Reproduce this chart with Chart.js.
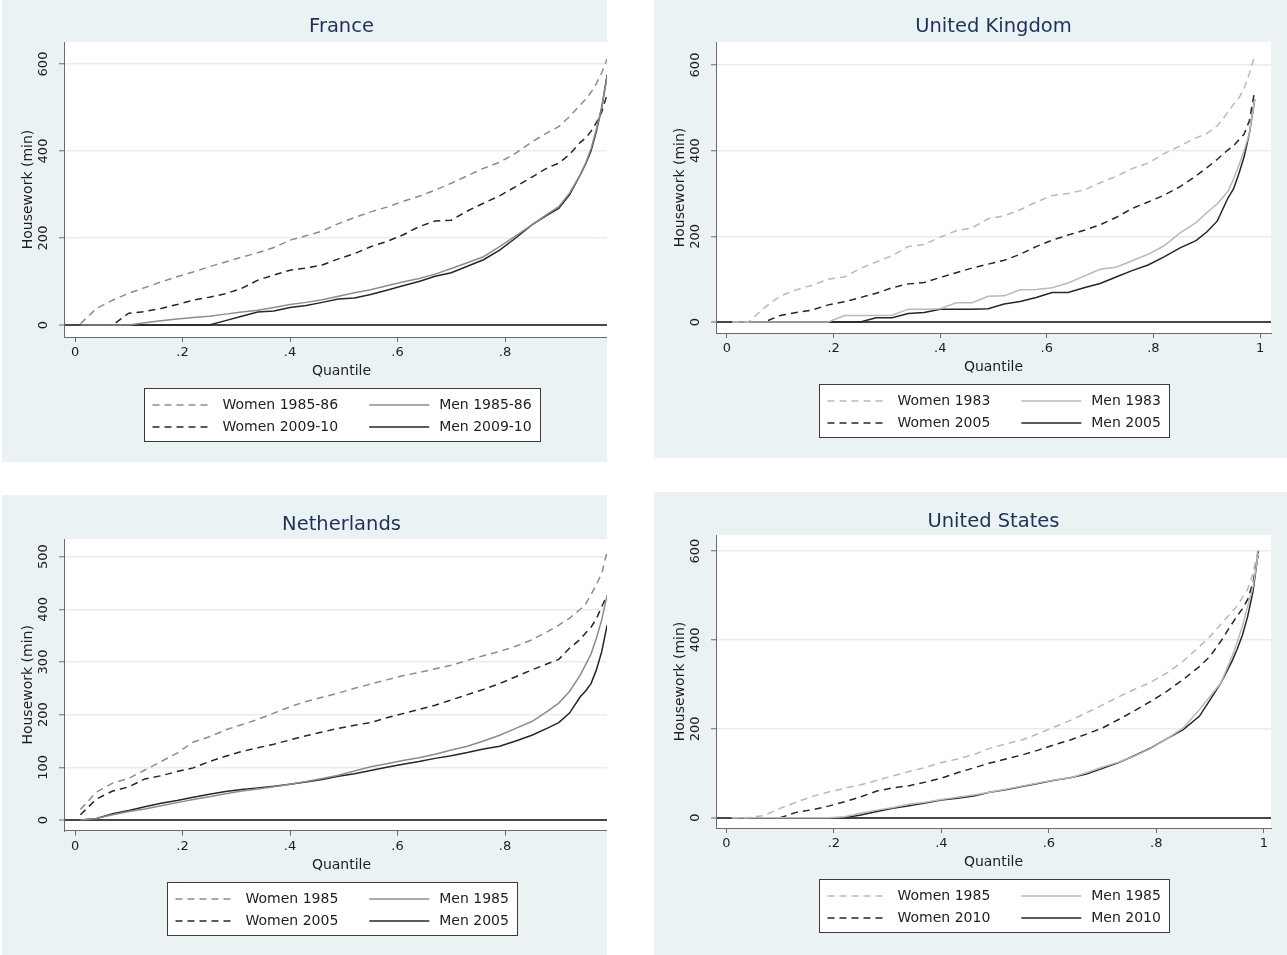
<!DOCTYPE html>
<html lang="en">
<head>
<meta charset="UTF-8">
<title>Housework by quantile</title>
<script src="https://cdn.jsdelivr.net/npm/chart.js"></script>
<style>
  body { margin: 0; background: #ffffff; width: 1287px; height: 955px; position: relative; overflow: hidden; }
  .panel { position: absolute; overflow: hidden; background: #eaf2f3; }
  .panel canvas { position: absolute; left: 0; top: 0; }
</style>
</head>
<body>
<div class="panel" style="left:2px;top:0px;width:605px;height:462px"><canvas id="fr" width="633" height="462"></canvas></div>
<div class="panel" style="left:654px;top:0px;width:633px;height:458px"><canvas id="uk" width="633" height="458"></canvas></div>
<div class="panel" style="left:2px;top:495px;width:605px;height:460px"><canvas id="nl" width="633" height="460"></canvas></div>
<div class="panel" style="left:654px;top:492px;width:633px;height:463px"><canvas id="us" width="633" height="463"></canvas></div>

<script>
const quantiles = [0.01,0.04,0.07,0.10,0.13,0.16,0.19,0.22,0.25,0.28,0.31,0.34,0.37,0.40,0.43,0.46,0.49,0.52,0.55,0.58,0.61,0.64,0.67,0.70,0.73,0.76,0.79,0.82,0.85,0.88,0.90,0.92,0.94,0.95,0.96,0.97,0.98,0.99];
const xTicks = [0, 0.2, 0.4, 0.6, 0.8, 1];
const yTicks600 = [0, 200, 400, 600];
const yTicks500 = [0, 100, 200, 300, 400, 500];

// France
const franceWomen8586 = [3,38,57,73,86,99,111,122,134,145,156,166,178,195,205,216,233,247,260,271,284,296,310,326,343,360,374,395,421,443,456,479,506,519,535,555,580,612];
const franceMen8586   = [0,0,0,0,5,10,14,17,20,25,30,34,40,47,52,58,66,74,81,90,99,107,117,130,143,157,180,205,230,256,272,303,345,372,405,450,500,571];
const franceWomen0910 = [0,0,0,27,31,38,47,57,64,72,84,103,115,126,131,138,152,164,180,192,207,226,239,241,262,280,297,318,340,362,372,392,420,430,445,465,490,530];
const franceMen0910   = [0,0,0,0,0,0,0,0,0,10,20,30,32,40,45,52,60,62,70,80,90,100,112,120,135,150,172,200,230,254,268,299,345,370,400,445,500,575];

// United Kingdom
const ukWomen1983 = [0,0,33,61,75,86,100,105,125,140,155,176,181,198,213,220,241,248,262,280,295,300,308,325,340,358,371,393,411,430,440,458,490,508,522,545,580,622];
const ukMen1983   = [0,0,0,0,0,0,0,15,15,15,16,30,30,31,45,45,60,61,75,76,80,91,107,123,128,143,158,178,208,232,255,276,305,333,365,400,440,520];
const ukWomen2005 = [0,0,0,15,22,28,40,47,57,67,80,89,92,104,115,126,135,144,158,176,191,203,214,227,244,265,280,296,316,341,360,380,402,411,425,438,470,540];
const ukMen2005   = [0,0,0,0,0,0,0,0,0,10,10,20,22,30,30,30,31,42,48,57,69,69,80,90,105,120,133,152,173,190,210,236,290,310,345,385,440,520];

// Netherlands
const nlWomen1985 = [20,53,70,79,95,111,127,148,158,171,181,191,203,215,225,233,241,250,258,266,274,280,287,294,303,312,320,330,342,358,370,383,400,410,428,447,468,510];
const nlMen1985   = [0,3,10,16,21,27,33,39,44,50,55,59,63,68,73,79,85,93,101,107,113,118,125,133,140,150,161,174,187,207,222,244,275,295,315,345,380,427];
const nlWomen2005 = [10,40,55,63,78,84,92,99,111,121,130,137,144,152,160,167,174,180,185,194,202,210,218,228,238,248,259,272,285,297,305,326,343,355,366,382,405,427];
const nlMen2005   = [0,3,12,18,25,32,37,43,49,54,58,61,64,68,72,77,83,88,94,100,106,111,117,122,128,135,140,150,161,175,185,203,234,245,259,285,320,370];

// United States
const usWomen1985 = [0,0,5,21,35,48,58,66,74,84,94,104,113,124,132,142,156,166,175,189,204,219,236,254,272,289,305,326,352,385,408,435,462,476,495,514,550,608];
const usMen1985   = [0,0,0,0,0,0,0,2,10,17,23,30,35,41,46,51,57,64,71,78,85,90,101,114,125,139,156,178,202,243,273,303,360,393,430,476,520,596];
const usWomen2010 = [0,0,0,0,12,18,26,36,47,60,67,72,80,89,101,112,123,132,141,152,164,175,188,202,221,241,262,285,311,340,363,397,435,453,470,491,530,596];
const usMen2010   = [0,0,0,0,0,0,0,0,6,14,21,27,33,40,44,49,57,63,70,77,84,90,98,111,124,140,157,178,198,228,265,303,350,378,410,453,510,600];

const fontFamily = '"DejaVu Sans", "Liberation Sans", sans-serif';
const textColor = '#1e1e1e';
const titleColor = '#1f3157';
const axisColor = '#6c6c6c';
const gridColor = '#e4eeef';
const zeroColor = '#474747';
const darkLine = '#262626';
const midGray = '#8c8c8c';
const lightGray = '#b9b9b9';
const dash = [7, 5];

Chart.defaults.font.family = fontFamily;
Chart.defaults.color = textColor;

const panels = [
  { id: 'fr', title: 'France', labels: ['Women 1985-86', 'Men 1985-86', 'Women 2009-10', 'Men 2009-10'],
    series: [franceWomen8586, franceMen8586, franceWomen0910, franceMen0910], oldColor: midGray,
    xMin: -0.0205, xMax: 1.0121, yMin: -27.6, yMax: 650.6, yTicks: yTicks600,
    height: 462, titleY: 27, areaTop: 42, areaBottom: 337 },
  { id: 'uk', title: 'United Kingdom', labels: ['Women 1983', 'Men 1983', 'Women 2005', 'Men 2005'],
    series: [ukWomen1983, ukMen1983, ukWomen2005, ukMen2005], oldColor: lightGray,
    xMin: -0.0206, xMax: 1.0206, yMin: -25.7, yMax: 653.7, yTicks: yTicks600,
    height: 458, titleY: 27, areaTop: 42, areaBottom: 333 },
  { id: 'nl', title: 'Netherlands', labels: ['Women 1985', 'Men 1985', 'Women 2005', 'Men 2005'],
    series: [nlWomen1985, nlMen1985, nlWomen2005, nlMen2005], oldColor: midGray,
    xMin: -0.0205, xMax: 1.0121, yMin: -20.3, yMax: 533.5, yTicks: yTicks500,
    height: 460, titleY: 30, areaTop: 44, areaBottom: 335.7 },
  { id: 'us', title: 'United States', labels: ['Women 1985', 'Men 1985', 'Women 2010', 'Men 2010'],
    series: [usWomen1985, usMen1985, usWomen2010, usMen2010], oldColor: lightGray,
    xMin: -0.0194, xMax: 1.0134, yMin: -23.2, yMax: 636.1, yTicks: yTicks600,
    height: 463, titleY: 30, areaTop: 43, areaBottom: 336 }
];

// white plot region
const plotRegion = {
  id: 'plotRegion',
  beforeDraw(chart) {
    const a = chart.chartArea;
    chart.ctx.save();
    chart.ctx.fillStyle = '#ffffff';
    chart.ctx.fillRect(a.left, a.top, a.right - a.left, a.bottom - a.top);
    chart.ctx.restore();
  }
};

// title centred over the plot region, like Stata does
const centerTitle = {
  id: 'centerTitle',
  afterLayout(chart) {
    if (chart.titleBlock) {
      chart.titleBlock.left = chart.chartArea.left;
      chart.titleBlock.right = chart.chartArea.right;
    }
  }
};

// 2 x 2 legend in a framed box under the axis
const boxLegend = {
  id: 'boxLegend',
  afterDraw(chart) {
    const ctx = chart.ctx;
    const a = chart.chartArea;
    const sets = chart.data.datasets;
    const keyLen = 60;
    ctx.save();
    ctx.font = '14px ' + fontFamily;
    const w1 = Math.max(ctx.measureText(sets[0].label).width, ctx.measureText(sets[2].label).width);
    const w2 = Math.max(ctx.measureText(sets[1].label).width, ctx.measureText(sets[3].label).width);
    const width = Math.round(8 + keyLen + 10 + w1 + 31 + keyLen + 10 + w2 + 9);
    const left = Math.round((a.left + a.right) / 2 - width / 2) + 0.5;
    const top = Math.round(a.bottom + 51) + 0.5;
    ctx.fillStyle = '#ffffff';
    ctx.fillRect(left, top, width, 53);
    ctx.strokeStyle = '#3a3a3a';
    ctx.lineWidth = 1;
    ctx.strokeRect(left, top, width, 53);
    const cols = [left + 8, left + 8 + keyLen + 10 + w1 + 31];
    [[0, 1], [2, 3]].forEach(function (row, r) {
      const y = Math.round(top + 16 + r * 22);
      row.forEach(function (i, c) {
        const ds = sets[i];
        ctx.beginPath();
        ctx.setLineDash(ds.borderDash || []);
        ctx.strokeStyle = ds.borderColor;
        ctx.lineWidth = ds.borderWidth;
        ctx.moveTo(cols[c], y);
        ctx.lineTo(cols[c] + keyLen, y);
        ctx.stroke();
        ctx.setLineDash([]);
        ctx.fillStyle = textColor;
        ctx.textBaseline = 'middle';
        ctx.textAlign = 'left';
        ctx.fillText(ds.label, cols[c] + keyLen + 10, y);
      });
    });
    ctx.restore();
  }
};

function quantileLabel(v) {
  if (v === 0) return '0';
  if (v === 1) return '1';
  return String(Number(v.toFixed(1))).replace(/^0/, '');
}

function makeChart(p) {
  const colors = [p.oldColor, p.oldColor, darkLine, darkLine];
  const dashes = [dash, [], dash, []];
  const datasets = p.series.map(function (vals, i) {
    return {
      label: p.labels[i],
      data: quantiles.map(function (q, k) { return { x: q, y: vals[k] }; }),
      borderColor: colors[i],
      borderDash: dashes[i],
      borderWidth: 1.5,
      pointRadius: 0,
      tension: 0,
      fill: false
    };
  });
  const xAxisHeight = 42.9;
  new Chart(document.getElementById(p.id), {
    type: 'line',
    data: { datasets: datasets },
    plugins: [plotRegion, centerTitle, boxLegend],
    options: {
      responsive: false,
      animation: false,
      events: [],
      layout: { padding: { left: 0, right: 16, top: 0, bottom: p.height - p.areaBottom - xAxisHeight } },
      plugins: {
        legend: { display: false },
        tooltip: { enabled: false },
        title: {
          display: true,
          text: p.title,
          color: titleColor,
          font: { size: 19.5, weight: 'normal' },
          padding: { top: p.titleY - 11.7, bottom: p.areaTop - p.titleY - 11.7 }
        }
      },
      scales: {
        x: {
          type: 'linear',
          min: p.xMin,
          max: p.xMax,
          afterBuildTicks: function (s) { s.ticks = xTicks.map(function (v) { return { value: v }; }); },
          afterFit: function (s) { s.height = xAxisHeight; },
          ticks: { callback: function (v) { return quantileLabel(v); }, maxRotation: 0, autoSkip: false, padding: 3, font: { size: 13 }, color: textColor },
          grid: { drawOnChartArea: false, drawTicks: true, tickLength: 5, tickColor: axisColor, tickWidth: 1 },
          border: { color: axisColor, width: 1 },
          title: { display: true, text: 'Quantile', color: textColor, font: { size: 14 }, padding: 0 }
        },
        y: {
          type: 'linear',
          min: p.yMin,
          max: p.yMax,
          afterBuildTicks: function (s) { s.ticks = p.yTicks.map(function (v) { return { value: v }; }); },
          afterFit: function (s) { s.width = 62; },
          ticks: { minRotation: 90, maxRotation: 90, crossAlign: 'center', padding: 3, font: { size: 13 }, color: textColor,
                   callback: function (v) { return String(v); } },
          grid: {
            color: function (c) { return c.tick && c.tick.value === 0 ? zeroColor : gridColor; },
            lineWidth: function (c) { return c.tick && c.tick.value === 0 ? 2 : 1.5; },
            drawTicks: true, tickLength: 5, tickColor: axisColor, tickWidth: 1
          },
          border: { color: axisColor, width: 1 },
          title: { display: true, text: 'Housework (min)', color: textColor, font: { size: 14 }, padding: { top: 17.6, bottom: 0 } }
        }
      }
    }
  });
}

panels.forEach(makeChart);
</script>
</body>
</html>
